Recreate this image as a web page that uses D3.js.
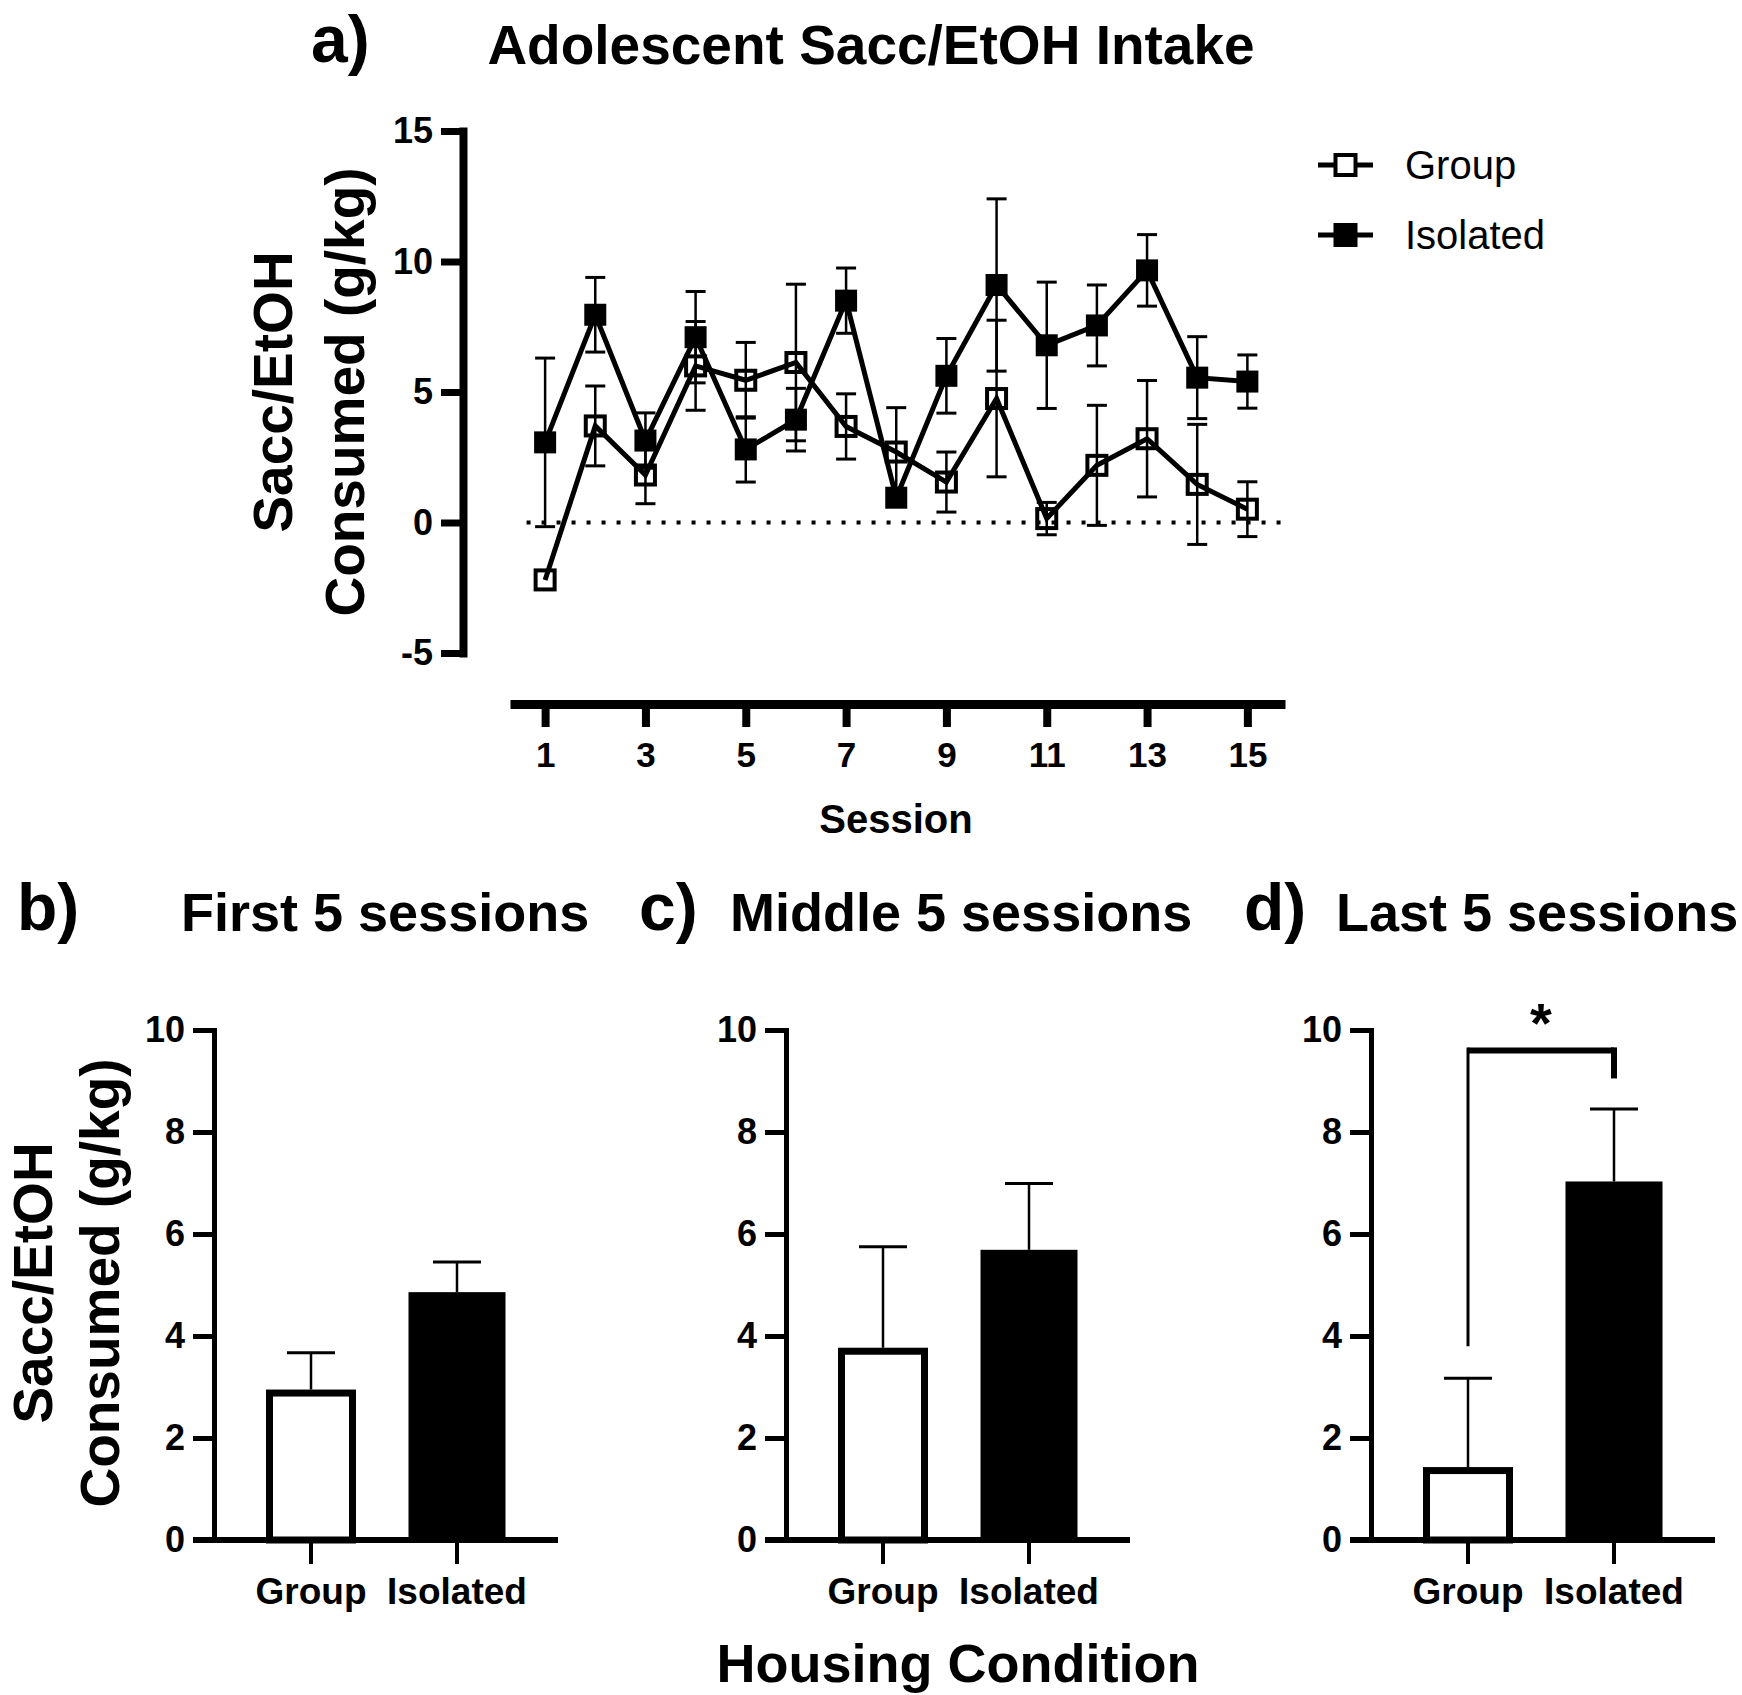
<!DOCTYPE html>
<html>
<head>
<meta charset="utf-8">
<script src="https://cdn.jsdelivr.net/npm/d3@7"></script>
<style>
  body { margin: 0; background: #fff; }
  text { font-family: "Liberation Sans", Arial, sans-serif; fill: #000; }
</style>
</head>
<body>
<div id="chart"></div>
<script>
// Panel a data: mean and SEM per session
var sessions = [1, 2, 3, 4, 5, 6, 7, 8, 9, 10, 11, 12, 13, 14, 15];
var groupMean = [-2.2, 3.7, 1.82, 6.0, 5.45, 6.13, 3.68, 2.7, 1.55, 4.75, 0.15, 2.19, 3.21, 1.46, 0.51];
var groupErr  = [0, 1.53, 1.1, 1.7, 1.45, 3.0, 1.25, 1.7, 1.15, 3.0, 0.62, 2.3, 2.23, 2.3, 1.05];
var isoMean   = [3.07, 7.96, 3.14, 7.1, 2.8, 3.94, 8.5, 0.95, 5.62, 9.1, 6.79, 7.55, 9.66, 5.55, 5.4];
var isoErr    = [3.23, 1.43, 1.06, 1.75, 1.25, 1.2, 1.25, 0.3, 1.43, 3.3, 2.42, 1.55, 1.37, 1.57, 1.02];
var sessionTicks = [1, 3, 5, 7, 9, 11, 13, 15];
var lineTicks = [-5, 0, 5, 10, 15];

// Panels b-d data
var barCategories = ["Group", "Isolated"];
var barTicks = [0, 2, 4, 6, 8, 10];
var firstMean  = [2.95, 4.86];
var firstErr   = [0.72, 0.59];
var middleMean = [3.77, 5.69];
var middleErr  = [1.98, 1.30];
var lastMean   = [1.43, 7.03];
var lastErr    = [1.74, 1.42];
// significance bracket in panel d (y values)
var sigTop = 9.6, sigLeftEnd = 3.8, sigRightEnd = 9.05;

var W = 1742, H = 1695;
var svg = d3.select("#chart").append("svg")
  .attr("width", W).attr("height", H)
  .attr("viewBox", "0 0 " + W + " " + H);

var plainFormat = function(d) { return String(d); };

// ---------- Panel a ----------
var xScale = d3.scaleLinear().domain([0.3, 15.75]).range([510, 1285]);
var yScale = d3.scaleLinear().domain([-5, 15]).range([653, 131]);
var yAxisX = 463, xAxisY = 704;

svg.append("text").attr("x", 311).attr("y", 62)
  .style("font-size", "66px").style("font-weight", "bold").text("a)");
svg.append("text").attr("x", 871).attr("y", 64).attr("text-anchor", "middle")
  .style("font-size", "55px").style("font-weight", "bold").text("Adolescent Sacc/EtOH Intake");

var yAxisA = svg.append("g").attr("transform", "translate(" + yAxisX + ",0)")
  .call(d3.axisLeft(yScale).tickValues(lineTicks).tickFormat(plainFormat)
    .tickSize(22).tickSizeOuter(0).tickPadding(8));
yAxisA.select(".domain").style("stroke-width", 8).style("stroke-linecap", "square");
yAxisA.selectAll(".tick line").style("stroke-width", 7);
yAxisA.selectAll(".tick text").style("font-size", "36px").style("font-weight", "bold").attr("fill", "#000");

var xAxisA = svg.append("g").attr("transform", "translate(0," + xAxisY + ")")
  .call(d3.axisBottom(xScale).tickValues(sessionTicks).tickFormat(plainFormat)
    .tickSize(23).tickSizeOuter(0).tickPadding(15));
xAxisA.select(".domain").style("stroke-width", 9);
xAxisA.selectAll(".tick line").style("stroke-width", 8);
xAxisA.selectAll(".tick text").style("font-size", "35px").style("font-weight", "bold").attr("fill", "#000");

svg.append("text").attr("x", 896).attr("y", 833).attr("text-anchor", "middle")
  .style("font-size", "40px").style("font-weight", "bold").text("Session");

// y label (two lines, rotated)
function yLabel(cx, cy, gap) {
  var g = svg.append("g").attr("transform", "translate(" + cx + "," + cy + ") rotate(-90)");
  g.append("text").attr("x", 0).attr("y", 0).attr("text-anchor", "middle")
    .style("font-size", "55px").style("font-weight", "bold").text("Sacc/EtOH");
  g.append("text").attr("x", 0).attr("y", gap).attr("text-anchor", "middle")
    .style("font-size", "55px").style("font-weight", "bold").text("Consumed (g/kg)");
}
yLabel(292, 392, 72);

// zero reference line
svg.append("line")
  .attr("x1", xScale(0.63)).attr("x2", xScale(15.7))
  .attr("y1", yScale(0)).attr("y2", yScale(0))
  .style("stroke", "#000").style("stroke-width", 4).style("stroke-dasharray", "4,11");

function drawSeries(means, errs, filled) {
  var pts = sessions.map(function(s, i) { return {s: s, m: means[i], e: errs[i]}; });
  var g = svg.append("g");
  // error bars
  var eb = g.selectAll(".eb").data(pts.filter(function(d) { return d.e > 0; })).enter().append("g");
  eb.append("line")
    .attr("x1", function(d) { return xScale(d.s); }).attr("x2", function(d) { return xScale(d.s); })
    .attr("y1", function(d) { return yScale(d.m - d.e); }).attr("y2", function(d) { return yScale(d.m + d.e); })
    .style("stroke", "#000").style("stroke-width", 2.5);
  [1, -1].forEach(function(sign) {
    eb.append("line")
      .attr("x1", function(d) { return xScale(d.s) - 10; }).attr("x2", function(d) { return xScale(d.s) + 10; })
      .attr("y1", function(d) { return yScale(d.m + sign * d.e); }).attr("y2", function(d) { return yScale(d.m + sign * d.e); })
      .style("stroke", "#000").style("stroke-width", 3);
  });
  // connecting line
  g.append("path").datum(pts)
    .attr("d", d3.line().x(function(d) { return xScale(d.s); }).y(function(d) { return yScale(d.m); }))
    .style("fill", "none").style("stroke", "#000").style("stroke-width", 5).style("stroke-linejoin", "miter");
  // markers
  var sz = filled ? 22 : 19;
  g.selectAll(".mk").data(pts).enter().append("rect")
    .attr("x", function(d) { return xScale(d.s) - sz / 2; })
    .attr("y", function(d) { return yScale(d.m) - sz / 2; })
    .attr("width", sz).attr("height", sz)
    .style("fill", filled ? "#000" : "none")
    .style("stroke", filled ? "none" : "#000").style("stroke-width", 4);
}
drawSeries(isoMean, isoErr, true);
drawSeries(groupMean, groupErr, false);

// legend
var legend = svg.append("g");
[["Group", false, 165], ["Isolated", true, 235]].forEach(function(item) {
  legend.append("line").attr("x1", 1318).attr("x2", 1373).attr("y1", item[2]).attr("y2", item[2])
    .style("stroke", "#000").style("stroke-width", 5);
  var s = item[1] ? 24 : 20;
  legend.append("rect").attr("x", 1345.5 - s / 2).attr("y", item[2] - s / 2).attr("width", s).attr("height", s)
    .style("fill", item[1] ? "#000" : "#fff").style("stroke", item[1] ? "none" : "#000").style("stroke-width", 4);
  legend.append("text").attr("x", 1405).attr("y", item[2] + 14)
    .style("font-size", "40px").text(item[0]);
});

// ---------- Panels b, c, d ----------
var barY = d3.scaleLinear().domain([0, 10]).range([1540, 1030]);

function drawBarPanel(x0, means, errs, letter, letterX, title, titleX, sig) {
  var g = svg.append("g");
  g.append("text").attr("x", letterX).attr("y", 930)
    .style("font-size", "66px").style("font-weight", "bold").text(letter);
  g.append("text").attr("x", titleX).attr("y", 931)
    .style("font-size", "54px").style("font-weight", "bold").text(title);

  var xb = d3.scaleBand().domain(barCategories).range([x0 + 24, x0 + 316]).padding(0);
  var cx = function(i) { return xb(barCategories[i]) + xb.bandwidth() / 2; };

  // bars
  means.forEach(function(m, i) {
    var c = cx(i);
    if (i === 0) {
      g.append("rect").attr("x", c - 45 + 3.5).attr("y", barY(m) + 3.5)
        .attr("width", 90 - 7).attr("height", barY(0) - barY(m) - 3.5)
        .style("fill", "#fff").style("stroke", "#000").style("stroke-width", 7);
    } else {
      g.append("rect").attr("x", c - 48.5).attr("y", barY(m))
        .attr("width", 97).attr("height", barY(0) - barY(m))
        .style("fill", "#000");
    }
    // upward error bar
    g.append("line").attr("x1", c).attr("x2", c).attr("y1", barY(m)).attr("y2", barY(m + errs[i]))
      .style("stroke", "#000").style("stroke-width", 2.5);
    g.append("line").attr("x1", c - 24).attr("x2", c + 24).attr("y1", barY(m + errs[i])).attr("y2", barY(m + errs[i]))
      .style("stroke", "#000").style("stroke-width", 3);
  });

  var ya = g.append("g").attr("transform", "translate(" + x0 + ",0)")
    .call(d3.axisLeft(barY).tickValues(barTicks).tickFormat(plainFormat)
      .tickSize(21).tickSizeOuter(0).tickPadding(8));
  ya.select(".domain").style("stroke-width", 5).style("stroke-linecap", "square");
  ya.selectAll(".tick line").style("stroke-width", 5);
  ya.selectAll(".tick text").style("font-size", "36px").style("font-weight", "bold").attr("fill", "#000");

  g.append("line").attr("x1", x0 - 21).attr("x2", x0 + 344).attr("y1", barY(0)).attr("y2", barY(0))
    .style("stroke", "#000").style("stroke-width", 6);
  var xa = g.append("g").attr("transform", "translate(0," + barY(0) + ")")
    .call(d3.axisBottom(xb).tickSize(24).tickSizeOuter(0).tickPadding(14));
  xa.select(".domain").remove();
  xa.selectAll(".tick line").style("stroke-width", 4);
  xa.selectAll(".tick text").style("font-size", "37px").style("font-weight", "bold").attr("fill", "#000");

  if (sig) {
    var l = cx(0), r = cx(1);
    g.append("line").attr("x1", l).attr("x2", r).attr("y1", barY(sigTop)).attr("y2", barY(sigTop))
      .style("stroke", "#000").style("stroke-width", 6);
    g.append("line").attr("x1", l).attr("x2", l).attr("y1", barY(sigTop) - 3).attr("y2", barY(sigLeftEnd))
      .style("stroke", "#000").style("stroke-width", 3);
    g.append("line").attr("x1", r).attr("x2", r).attr("y1", barY(sigTop) - 3).attr("y2", barY(sigRightEnd))
      .style("stroke", "#000").style("stroke-width", 6);
    g.append("text").attr("x", (l + r) / 2).attr("y", barY(sigTop) - 8).attr("text-anchor", "middle")
      .style("font-size", "56px").style("font-weight", "bold").text("*");
  }
}

drawBarPanel(214, firstMean, firstErr, "b)", 17, "First 5 sessions", 181, false);
drawBarPanel(786, middleMean, middleErr, "c)", 639, "Middle 5 sessions", 730, false);
drawBarPanel(1371, lastMean, lastErr, "d)", 1244, "Last 5 sessions", 1336, true);

// shared bottom y label and x label
yLabel(52, 1283, 67);
svg.append("text").attr("x", 958).attr("y", 1682).attr("text-anchor", "middle")
  .style("font-size", "54px").style("font-weight", "bold").text("Housing Condition");
</script>
</body>
</html>
